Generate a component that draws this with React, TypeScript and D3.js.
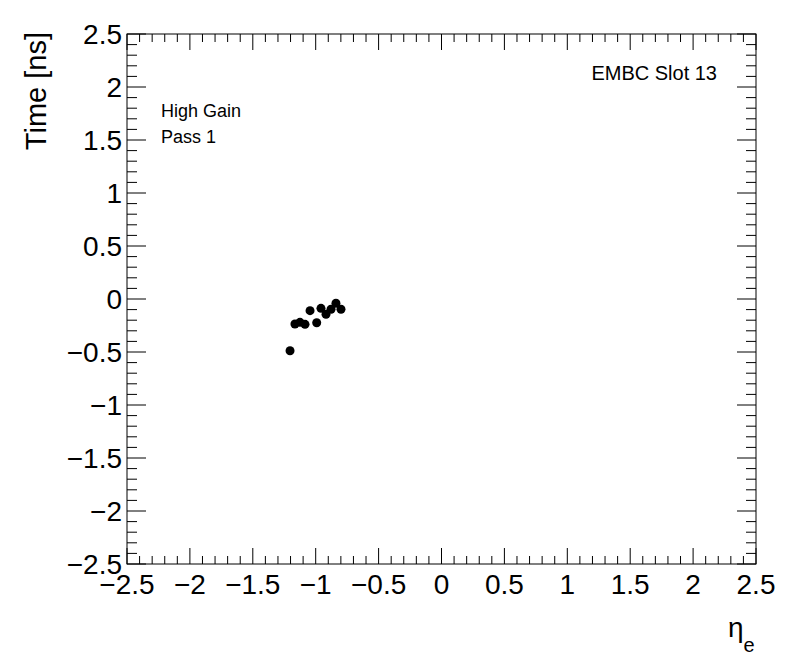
import React from "react";
import * as d3 from "d3";

const etaValues = [-1.204, -1.165, -1.125, -1.085, -1.045, -0.992, -0.958, -0.918, -0.878, -0.839, -0.799];
const timeValues = [-0.488, -0.236, -0.22, -0.239, -0.11, -0.224, -0.088, -0.144, -0.097, -0.04, -0.097];
const majorTicks = [-2.5, -2, -1.5, -1, -0.5, 0, 0.5, 1, 1.5, 2, 2.5];
const tickLabels = ["\u22122.5", "\u22122", "\u22121.5", "\u22121", "\u22120.5", "0", "0.5", "1", "1.5", "2", "2.5"];
const minorTicks = d3.range(-25, 26).map((i) => i / 10);

const W = 796, H = 672;
const L = 127, R = 756, T = 34, B = 564;
const FONT = "'Liberation Sans', Arial, Helvetica, sans-serif";

export default function App() {
  const x = d3.scaleLinear().domain([-2.5, 2.5]).range([L, R]);
  const y = d3.scaleLinear().domain([-2.5, 2.5]).range([B, T]);
  const isMajor = (v: number) => Math.abs(v * 2 - Math.round(v * 2)) < 1e-6;
  return (
    <div style={{ position: "absolute", left: 0, top: 0 }}>
      <svg width={W} height={H} style={{ display: "block", background: "#fff" }}>
        <rect x={0} y={0} width={W} height={H} fill="#fff" />
        {minorTicks.map((v, i) => {
          const xm = isMajor(v) ? 16 : 8;
          const ym = isMajor(v) ? 19 : 10;
          return (
            <g key={i} stroke="#000" strokeWidth={1}>
              <line x1={x(v)} x2={x(v)} y1={B} y2={B - xm} />
              <line x1={x(v)} x2={x(v)} y1={T} y2={T + xm} />
              <line y1={y(v)} y2={y(v)} x1={L} x2={L + ym} />
              <line y1={y(v)} y2={y(v)} x1={R} x2={R - ym} />
            </g>
          );
        })}
        <rect x={L} y={T} width={R - L} height={B - T} fill="none" stroke="#000" strokeWidth={1} />
        {majorTicks.map((v, i) => (
          <text key={"x" + i} x={x(v)} y={594} textAnchor="middle" fontFamily={FONT} fontSize={28} fill="#000">
            {tickLabels[i]}
          </text>
        ))}
        {majorTicks.map((v, i) => (
          <text key={"y" + i} x={122} y={y(v)} dy="0.36em" textAnchor="end" fontFamily={FONT} fontSize={28} fill="#000">
            {tickLabels[i]}
          </text>
        ))}
        <text transform={`translate(46,32) rotate(-90)`} textAnchor="end" fontFamily={FONT} fontSize={29} fill="#000">
          Time [ns]
        </text>
        <text x={728} y={637} fontFamily={FONT} fontSize={28} fill="#000">
          η<tspan fontSize={20} dy={15}>e</tspan>
        </text>
        <text x={161} y={117} fontFamily={FONT} fontSize={18} fill="#000">High Gain</text>
        <text x={161} y={143} fontFamily={FONT} fontSize={18} fill="#000">Pass 1</text>
        <text x={717} y={80} textAnchor="end" fontFamily={FONT} fontSize={20} fill="#000">EMBC Slot 13</text>
        {etaValues.map((e, i) => (
          <circle key={i} cx={x(e)} cy={y(timeValues[i])} r={4.5} fill="#000" />
        ))}
      </svg>
    </div>
  );
}
